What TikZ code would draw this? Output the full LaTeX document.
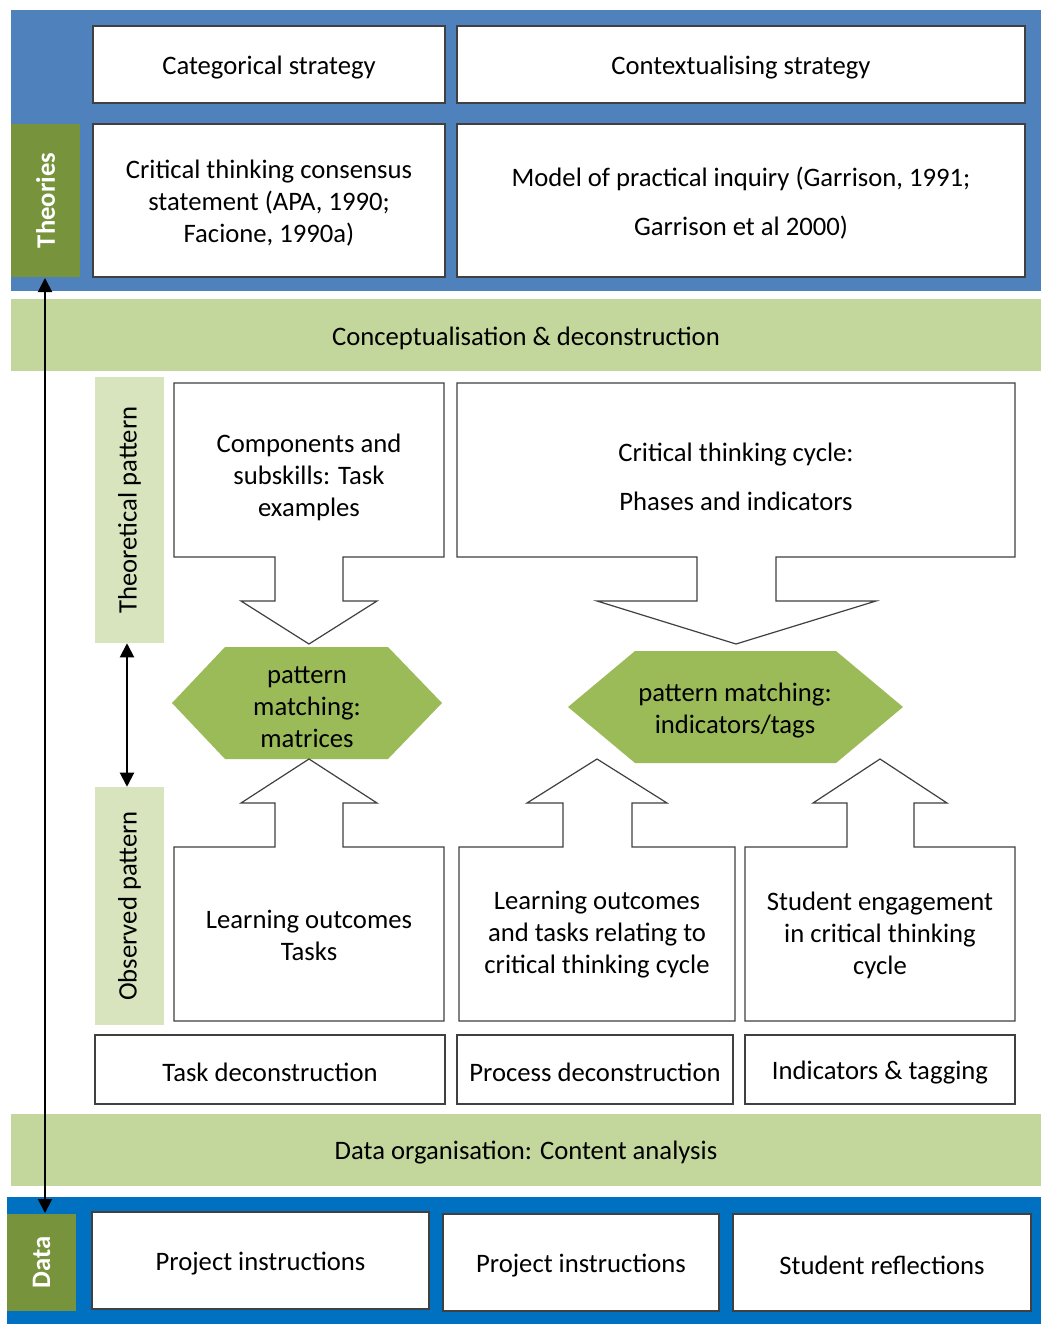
\documentclass[tikz,border=0pt]{standalone}
\usepackage{fontspec}
\setmainfont{Carlito}
\usetikzlibrary{arrows.meta,fit}
\definecolor{blueA}{HTML}{4F81BD}
\definecolor{blueB}{HTML}{0070C0}
\definecolor{greenD}{HTML}{77933C}
\definecolor{greenM}{HTML}{9BBB59}
\definecolor{greenL}{HTML}{C3D69B}
\definecolor{greenXL}{HTML}{D7E4BD}
\definecolor{edge}{HTML}{404040}
\begin{document}
\begin{tikzpicture}[x=0.75pt,y=-0.75pt,
  every node/.style={font=\fontsize{20}{24}\selectfont},
  whitebox/.style={draw=edge,fill=white,line width=0.9pt,inner sep=0pt},
  band/.style={inner sep=0pt},
  callout/.style={draw=edge,fill=white,line width=0.9pt,line join=miter},
  hexa/.style={fill=greenM},
  txt/.style={align=center,inner sep=0pt,yshift=-2.2pt},
  rottxt/.style={rotate=90,inner sep=0pt},
  bigarrow/.style={{Triangle[width=10.5pt,length=10.5pt]}-{Triangle[width=10.5pt,length=10.5pt]},line width=1.5pt}
]
\useasboundingbox (0,0) rectangle (1041,1324);
\fill[white] (0,0) rectangle (1041,1324);

% ---------- Theories band ----------
\node[band,fill=blueA,fit={(11,10) (1041,291)}] (theoryband) {};
\node[band,fill=greenD,fit={(11,124) (80,277)}] (theories) {};
\node[rottxt,text=white,font=\fontsize{20}{24}\selectfont\bfseries] (theoriesT) at (theories.center) {Theories};
\node[whitebox,fit={(93,26) (445,103)}] (cat) {};
\node[txt] (catT) at (cat.center) {Categorical strategy};
\node[whitebox,fit={(457,26) (1025,103)}] (ctx) {};
\node[txt] (ctxT) at (ctx.center) {Contextualising strategy};
\node[whitebox,fit={(93,124) (445,277)}] (ctc) {};
\node[txt] (ctcT) at (ctc.center) {Critical thinking consensus\\statement (APA, 1990;\\Facione, 1990a)};
\node[whitebox,fit={(457,124) (1025,277)}] (mpi) {};
\node[txt] (mpiT) at (mpi.center) {Model of practical inquiry (Garrison, 1991;\\[12.5pt]Garrison et al 2000)};

% ---------- Conceptualisation band ----------
\node[band,fill=greenL,fit={(11,299) (1041,371)}] (concept) {};
\node[txt] (conceptT) at (concept.center) {Conceptualisation \& deconstruction};

% ---------- pattern labels ----------
\node[band,fill=greenXL,fit={(95,377) (164,643)}] (theo) {};
\node[rottxt] (theoT) at (theo.center) {Theoretical pattern};
\node[band,fill=greenXL,fit={(95,787) (164,1025)}] (obs) {};
\node[rottxt] (obsT) at (obs.center) {Observed pattern};

% ---------- down callouts ----------
\draw[callout] (174,383) -- (444,383) -- (444,557) -- (343,557) -- (343,601) -- (377,601)
  -- (309,644) -- (241,601) -- (275,601) -- (275,557) -- (174,557) -- cycle;
\node[txt] (comp) at (309,474) {Components and\\subskills: Task\\examples};
\draw[callout] (457,383) -- (1015,383) -- (1015,557) -- (776,557) -- (776,601) -- (876,601)
  -- (736,644) -- (597,601) -- (697,601) -- (697,557) -- (457,557) -- cycle;
\node[txt] (cycle) at (736,474) {Critical thinking cycle:\\[12.5pt]Phases and indicators};

% ---------- hexagons ----------
\fill[hexa] (172,703) -- (225,647) -- (388,647) -- (442,703) -- (388,759) -- (225,759) -- cycle;
\node[txt] (hexA) at (307,704) {pattern\\matching:\\matrices};
\fill[hexa] (568,707) -- (635,651) -- (836,651) -- (903,707) -- (836,763) -- (635,763) -- cycle;
\node[txt] (hexB) at (735,708) {pattern matching:\\indicators/tags};

% ---------- up callouts ----------
\draw[callout] (174,1021) -- (444,1021) -- (444,847) -- (343,847) -- (343,803) -- (377,803)
  -- (309,759) -- (241,803) -- (275,803) -- (275,847) -- (174,847) -- cycle;
\node[txt] (lot) at (309,932) {Learning outcomes\\Tasks};
\draw[callout] (459,1021) -- (735,1021) -- (735,847) -- (632,847) -- (632,803) -- (667,803)
  -- (597,759) -- (527,803) -- (563,803) -- (563,847) -- (459,847) -- cycle;
\node[txt] (lotc) at (597,932) {Learning outcomes\\and tasks relating to\\critical thinking cycle};
\draw[callout] (745,1021) -- (1015,1021) -- (1015,847) -- (914,847) -- (914,803) -- (947,803)
  -- (880,759) -- (813,803) -- (847,803) -- (847,847) -- (745,847) -- cycle;
\node[txt] (seng) at (880,932) {Student engagement\\in critical thinking\\cycle};

% ---------- deconstruction row ----------
\node[whitebox,fit={(95,1035) (445,1104)}] (taskd) {};
\node[txt] (taskdT) at (taskd.center) {Task deconstruction};
\node[whitebox,fit={(457,1035) (733,1104)}] (procd) {};
\node[txt] (procdT) at (procd.center) {Process deconstruction};
\node[whitebox,fit={(745,1035) (1015,1104)}] (indt) {};
\node[txt] (indtT) at (indt.center) {Indicators \& tagging};

% ---------- Data organisation band ----------
\node[band,fill=greenL,fit={(11,1114) (1041,1186)}] (dataorg) {};
\node[txt] (dataorgT) at (dataorg.center) {Data organisation: Content analysis};

% ---------- Data band ----------
\node[band,fill=blueB,fit={(7,1197) (1041,1324)}] (databand) {};
\node[band,fill=greenD,fit={(7,1214) (76,1311)}] (data) {};
\node[rottxt,text=white,font=\fontsize{20}{24}\selectfont\bfseries] (dataT) at (data.center) {Data};
\node[whitebox,fit={(92,1212) (429,1309)}] (pi1) {};
\node[txt] (pi1T) at (pi1.center) {Project instructions};
\node[whitebox,fit={(443,1214) (719,1311)}] (pi2) {};
\node[txt] (pi2T) at (pi2.center) {Project instructions};
\node[whitebox,fit={(733,1214) (1031,1311)}] (sr) {};
\node[txt] (srT) at (sr.center) {Student reflections};

% ---------- arrows ----------
\coordinate (topA) at (45,278);
\coordinate (botA) at (45,1213);
\draw[bigarrow] (topA) -- (botA);
\draw[bigarrow] (theo.south -| 127,0) -- (obs.north -| 127,0);
\end{tikzpicture}
\end{document}
